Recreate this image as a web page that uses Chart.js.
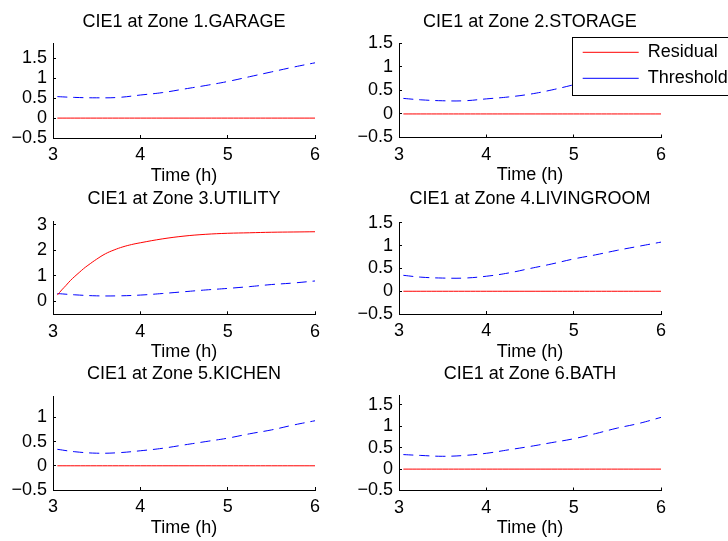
<!DOCTYPE html>
<html><head><meta charset="utf-8">
<script src="https://cdn.jsdelivr.net/npm/chart.js@4/dist/chart.umd.min.js"></script>
<style>
html,body{margin:0;padding:0;background:#fff;width:728px;height:541px;overflow:hidden;position:relative}
canvas{position:absolute}
</style></head><body>
<canvas id="c1"></canvas><canvas id="c2"></canvas><canvas id="c3"></canvas>
<canvas id="c4"></canvas><canvas id="c5"></canvas><canvas id="c6"></canvas>
<script>
// ---- data ----
const titles = ['CIE1 at Zone 1.GARAGE','CIE1 at Zone 2.STORAGE','CIE1 at Zone 3.UTILITY',
                'CIE1 at Zone 4.LIVINGROOM','CIE1 at Zone 5.KICHEN','CIE1 at Zone 6.BATH'];
const xTitle = 'Time (h)';
const seriesNames = ['Residual','Threshold'];
const xTicks = [3, 4, 5, 6];
const xRange = [3, 6];

const tGrid = [3.05, 3.25, 3.5, 3.75, 4, 4.25, 4.5, 4.75, 5, 5.25, 5.5, 5.75, 6];
const resZero = [0, 0, 0, 0, 0, 0, 0, 0, 0, 0, 0, 0, 0];

const thr1 = [0.54, 0.52, 0.51, 0.52, 0.58, 0.64, 0.73, 0.82, 0.92, 1.04, 1.16, 1.28, 1.39];
const thr2 = [0.33, 0.30, 0.28, 0.28, 0.32, 0.36, 0.42, 0.51, 0.62, 0.74, 0.86, 0.98, 1.10];
const thr3 = [0.31, 0.26, 0.22, 0.22, 0.25, 0.31, 0.38, 0.45, 0.51, 0.58, 0.66, 0.72, 0.80];
const thr4 = [0.35, 0.31, 0.29, 0.29, 0.33, 0.40, 0.50, 0.60, 0.71, 0.80, 0.90, 0.99, 1.08];
const thr5 = [0.34, 0.29, 0.26, 0.27, 0.31, 0.36, 0.43, 0.50, 0.57, 0.66, 0.74, 0.84, 0.93];
const thr6 = [0.34, 0.32, 0.30, 0.32, 0.37, 0.45, 0.53, 0.62, 0.71, 0.83, 0.96, 1.07, 1.21];

const tRes3 = [3.05, 3.1, 3.15, 3.2, 3.25, 3.3, 3.35, 3.4, 3.5, 3.6, 3.7, 3.8, 3.9, 4, 4.25, 4.5, 4.75, 5, 5.25, 5.5, 5.75, 6];
const res3  = [0.25, 0.45, 0.63, 0.82, 0.98, 1.13, 1.28, 1.41, 1.65, 1.86, 2.01, 2.13, 2.22, 2.29, 2.44, 2.55, 2.62, 2.66, 2.68, 2.70, 2.71, 2.72];

const yTicksA = [-0.5, 0, 0.5, 1, 1.5];
const yTicks3 = [0, 1, 2, 3];
const yTicks5 = [-0.5, 0, 0.5, 1];
const yLims = [[-0.5, 1.88], [-0.5, 1.5], [-0.5, 3.1], [-0.5, 1.5], [-0.5, 1.42], [-0.5, 1.71]];

// ---- layout (page pixels) ----
const boxes = [
  {L:53,  T:43.3, R:315, B:138,   ty:22.5},
  {L:399, T:43.3, R:661, B:137.5, ty:22.5},
  {L:53,  T:222,  R:315, B:314.3, ty:199.2},
  {L:399, T:223,  R:661, B:314,   ty:199.2},
  {L:53,  T:397,  R:315, B:490,   ty:374.5},
  {L:399, T:396,  R:661, B:490.5, ty:374.5}
];
const cols = [{cx:0, cw:345}, {cx:345, cw:383}];
const FS = 18, LH = FS * 1.2, WY = 45, HX = 50, TL = -3;

Chart.defaults.font.family = "'Liberation Sans', Arial, Helvetica, sans-serif";
Chart.defaults.font.size = FS;
Chart.defaults.color = '#000';

const pts = (xs, ys) => xs.map((x, i) => ({x: x, y: ys[i]}));
const fmt = v => String(v).replace('-', '\u2212');

const panels = [
  {res: pts(tGrid, resZero), thr: pts(tGrid, thr1), yt: yTicksA},
  {res: pts(tGrid, resZero), thr: pts(tGrid, thr2), yt: yTicksA, legend: true},
  {res: pts(tRes3, res3),    thr: pts(tGrid, thr3), yt: yTicks3},
  {res: pts(tGrid, resZero), thr: pts(tGrid, thr4), yt: yTicksA},
  {res: pts(tGrid, resZero), thr: pts(tGrid, thr5), yt: yTicks5},
  {res: pts(tGrid, resZero), thr: pts(tGrid, thr6), yt: yTicksA}
];

panels.forEach((p, i) => {
  const b = boxes[i];
  const col = cols[i % 2];
  const cy = Math.floor(b.ty - 14);
  const ch = Math.ceil(b.B + HX + 2 - cy);
  const cv = document.getElementById('c' + (i + 1));
  cv.width = col.cw; cv.height = ch;
  cv.style.left = col.cx + 'px'; cv.style.top = cy + 'px';
  cv.style.width = col.cw + 'px'; cv.style.height = ch + 'px';

  const plugins = [];
  if (p.legend) {
    const lgLeft = 574.7 - col.cx, lgTop = 35.3 - cy;
    const frame = {x: 572.3 - col.cx, y: 37.3 - cy, w: 200, h: 95 - 37.3};
    plugins.push({
      id: 'boxLegend',
      afterLayout(chart) {
        const lg = chart.legend;
        lg.left = lgLeft; lg.top = lgTop; lg.right = chart.width; lg.bottom = lgTop + 90;
        lg.width = lg.right - lg.left; lg.height = 90;
      },
      afterDatasetsDraw(chart) {
        const ctx = chart.ctx;
        ctx.save();
        ctx.fillStyle = '#fff';
        ctx.fillRect(frame.x, frame.y, frame.w, frame.h);
        ctx.strokeStyle = '#000'; ctx.lineWidth = 1; ctx.setLineDash([]);
        ctx.strokeRect(Math.round(frame.x) + 0.5, Math.round(frame.y) + 0.5, frame.w, Math.round(frame.h));
        ctx.restore();
        chart.legend.draw();
      }
    });
  }

  new Chart(cv, {
    type: 'line',
    data: {
      datasets: [
        {label: seriesNames[0], data: p.res, borderColor: '#ff0000', backgroundColor: '#ff0000',
         borderWidth: 1, pointRadius: 0, fill: false, tension: 0.4},
        {label: seriesNames[1], data: p.thr, borderColor: '#0000ff', backgroundColor: '#0000ff',
         borderWidth: 1, borderDash: [10, 6], pointRadius: 0, fill: false, tension: 0.4}
      ]
    },
    options: {
      responsive: false, animation: false, devicePixelRatio: 1,
      events: [],
      layout: {padding: {left: b.L - col.cx - WY, right: col.cx + col.cw - b.R, top: 0,
                         bottom: cy + ch - b.B - HX}},
      plugins: {
        title: {display: true, text: titles[i], fullSize: false, color: '#000',
                font: {size: FS, weight: 'normal'},
                padding: {top: b.ty - LH / 2 - cy, bottom: b.T - b.ty - LH / 2}},
        legend: p.legend ? {
          display: true, position: 'chartArea', align: 'start',
          labels: {usePointStyle: true, pointStyle: 'line', pointStyleWidth: 56, padding: 8,
                   color: '#000', font: {size: FS}}
        } : {display: false},
        tooltip: {enabled: false}
      },
      scales: {
        x: {
          type: 'linear', position: 'bottom', min: xRange[0], max: xRange[1], bounds: 'data',
          afterBuildTicks: s => { s.ticks = xTicks.map(v => ({value: v})); },
          afterFit: s => { s.height = HX; },
          ticks: {padding: 9.7, maxRotation: 0, autoSkip: false, color: '#000', callback: v => fmt(v)},
          grid: {display: true, drawOnChartArea: false, drawTicks: true, tickLength: TL, color: '#000', lineWidth: 1},
          border: {display: true, color: '#000', width: 1},
          title: {display: true, text: xTitle, color: '#000', font: {size: FS}, padding: {top: 0, bottom: 1.2}}
        },
        y: {
          type: 'linear', position: 'left', min: yLims[i][0], max: yLims[i][1], bounds: 'data',
          afterBuildTicks: s => { s.ticks = p.yt.map(v => ({value: v})); },
          afterFit: s => { s.width = WY; },
          ticks: {padding: 9, autoSkip: false, color: '#000', callback: v => fmt(v)},
          grid: {display: true, drawOnChartArea: false, drawTicks: true, tickLength: TL, color: '#000', lineWidth: 1},
          border: {display: true, color: '#000', width: 1}
        }
      }
    },
    plugins: plugins
  });
});
</script>
</body></html>
